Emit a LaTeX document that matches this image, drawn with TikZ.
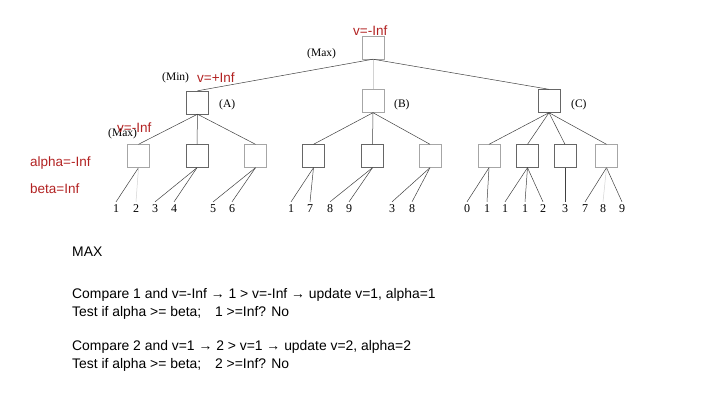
\documentclass[tikz,border=0pt]{standalone}
\usepackage{fontspec}
\setmainfont{Liberation Sans}
\newfontfamily\treefont{Liberation Serif}
\definecolor{valred}{RGB}{178,34,34}

\begin{document}
\begin{tikzpicture}[x=1pt, y=-1pt,
    state/.style={rectangle, draw=gray!70, minimum width=22pt, minimum height=23pt, inner sep=0pt},
    darkstate/.style={state, draw=black!60},
    leaf/.style={font=\treefont\fontsize{12}{14}\selectfont, inner sep=2pt, anchor=base},
    tag/.style={font=\treefont\fontsize{11.5}{14}\selectfont, inner sep=0pt, anchor=base west},
    note/.style={font=\fontsize{13.5}{16}\selectfont, text=valred, inner sep=0pt, anchor=base west},
    textline/.style={font=\fontsize{13.9}{16}\selectfont, inner sep=0pt, anchor=base west},
    edge/.style={draw=black!75, line width=0.5pt},
    faint/.style={draw=gray!35, line width=0.5pt}
]
\useasboundingbox (0,0) rectangle (720,405);

% Root (Max)
\node[state] (root) at (373,47.5) {};
\node[tag] (maxtag) at (307,56) {(Max)};
\node[note] (rootval) at (353,35) {v=-Inf};

% Min level
\node[darkstate] (A) at (197.5,102.5) {};
\node[state] (B) at (373,101) {};
\node[darkstate] (C) at (549,101) {};
\node[tag] (mintag) at (162,80) {(Min)};
\node[note] (Aval) at (197,82) {v=+Inf};
\node[tag] (Atag) at (219,107) {(A)};
\node[tag] (Btag) at (394,107) {(B)};
\node[tag] (Ctag) at (571,107) {(C)};

% Max level
\node[state] (a1) at (138.5,156) {};
\node[darkstate] (a2) at (197,156) {};
\node[state] (a3) at (255.5,156) {};
\node[darkstate] (b1) at (313.5,156) {};
\node[darkstate] (b2) at (372.5,156) {};
\node[state] (b3) at (430,156) {};
\node[state] (c1) at (489,156) {};
\node[darkstate] (c2) at (527.5,156) {};
\node[darkstate] (c3) at (565,156) {};
\node[state] (c4) at (606.5,156) {};
\node[tag] (maxtag2) at (108,136) {(Max)};
\node[note] (a1val) at (117,132) {v=-Inf};

% Bounds
\node[note] (alpha) at (30,166) {alpha=-Inf};
\node[note] (beta) at (30,193) {beta=Inf};

% Leaves
\node[leaf] (l1) at (116,212) {1};
\node[leaf] (l2) at (136,212) {2};
\node[leaf] (l3) at (155,212) {3};
\node[leaf] (l4) at (174,212) {4};
\node[leaf] (l5) at (213,212) {5};
\node[leaf] (l6) at (232,212) {6};
\node[leaf] (l7) at (291,212) {1};
\node[leaf] (l8) at (310,212) {7};
\node[leaf] (l9) at (330,212) {8};
\node[leaf] (l10) at (349,212) {9};
\node[leaf] (l11) at (392,212) {3};
\node[leaf] (l12) at (412,212) {8};
\node[leaf] (l13) at (467,212) {0};
\node[leaf] (l14) at (487,212) {1};
\node[leaf] (l15) at (505,212) {1};
\node[leaf] (l16) at (525,212) {1};
\node[leaf] (l17) at (543,212) {2};
\node[leaf] (l18) at (565,212) {3};
\node[leaf] (l19) at (585,212) {7};
\node[leaf] (l20) at (603,212) {8};
\node[leaf] (l21) at (622,212) {9};

% Tree edges
\draw[edge] (root.south) -- (A.north);
\draw[faint] (root.south) -- (B.north);
\draw[edge] (root.south) -- (C.north);
\draw[edge] (A.south) -- (a1.north);
\draw[edge] (A.south) -- (a2.north);
\draw[edge] (A.south) -- (a3.north);
\draw[edge] (B.south) -- (b1.north);
\draw[edge] (B.south) -- (b2.north);
\draw[edge] (B.south) -- (b3.north);
\draw[edge] (C.south) -- (c1.north);
\draw[edge] (C.south) -- (c2.north);
\draw[edge] (C.south) -- (c3.north);
\draw[edge] (C.south) -- (c4.north);
\draw[edge] (a1.south) -- (l1.north);
\draw[faint] (a1.south) -- (l2.north);
\draw[edge] (a2.south) -- (l3.north);
\draw[edge] (a2.south) -- (l4.north);
\draw[edge] (a3.south) -- (l5.north);
\draw[edge] (a3.south) -- (l6.north);
\draw[edge] (b1.south) -- (l7.north);
\draw[edge] (b1.south) -- (l8.north);
\draw[edge] (b2.south) -- (l9.north);
\draw[edge] (b2.south) -- (l10.north);
\draw[edge] (b3.south) -- (l11.north);
\draw[edge] (b3.south) -- (l12.north);
\draw[edge] (c1.south) -- (l13.north);
\draw[edge] (c1.south) -- (l14.north);
\draw[edge] (c2.south) -- (l15.north);
\draw[edge] (c2.south) -- (l16.north);
\draw[edge] (c2.south) -- (l17.north);
\draw[edge] (c3.south) -- (l18.north);
\draw[edge] (c4.south) -- (l19.north);
\draw[faint] (c4.south) -- (l20.north);
\draw[edge] (c4.south) -- (l21.north);

% Trace
\node[textline] (mode) at (72,256) {MAX};
\node[textline] (cmp1) at (72,298) {Compare 1 and v=-Inf → 1 > v=-Inf → update v=1, alpha=1};
\node[textline] (test1) at (72,316) {Test if alpha >= beta;\quad 1 >=Inf? No};
\node[textline] (cmp2) at (72,350) {Compare 2 and v=1 → 2 > v=1 → update v=2, alpha=2};
\node[textline] (test2) at (72,368) {Test if alpha >= beta;\quad 2 >=Inf? No};

\end{tikzpicture}
\end{document}
